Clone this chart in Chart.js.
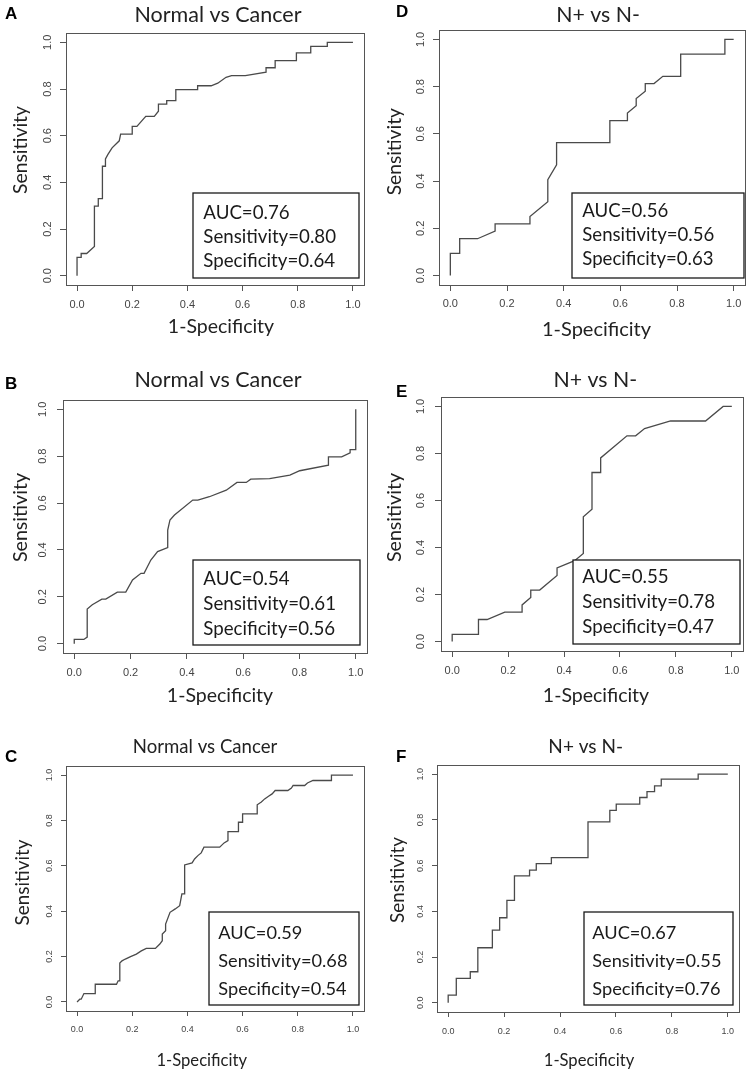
<!DOCTYPE html>
<html>
<head>
<meta charset="utf-8">
<script src="https://cdn.jsdelivr.net/npm/chart.js@4.4.0/dist/chart.umd.min.js"></script>
<style>
html, body { margin: 0; padding: 0; background: #fff; overflow: hidden; }
#page { position: relative; width: 747px; height: 1074px; overflow: hidden; }
#page canvas { position: absolute; }
</style>
</head>
<body>
<div id="page"></div>
<script>
// axis ticks (same on every panel)
const tickValues = [0, 0.2, 0.4, 0.6, 0.8, 1.0];
const xAxisTitle = '1-Specificity';
const yAxisTitle = 'Sensitivity';

// panel texts, order A B C D E F
const panelLetters = ['A', 'B', 'C', 'D', 'E', 'F'];
const panelTitles = ['Normal vs Cancer', 'Normal vs Cancer', 'Normal vs Cancer', 'N+ vs N-', 'N+ vs N-', 'N+ vs N-'];
const aucLabels = ['AUC=0.76', 'AUC=0.54', 'AUC=0.59', 'AUC=0.56', 'AUC=0.55', 'AUC=0.67'];
const sensLabels = ['Sensitivity=0.80', 'Sensitivity=0.61', 'Sensitivity=0.68', 'Sensitivity=0.56', 'Sensitivity=0.78', 'Sensitivity=0.55'];
const specLabels = ['Specificity=0.64', 'Specificity=0.56', 'Specificity=0.54', 'Specificity=0.63', 'Specificity=0.47', 'Specificity=0.76'];

// ROC curves (1-specificity, sensitivity)
const aFpr = [0, 0, 0.015, 0.015, 0.035, 0.063, 0.063, 0.077, 0.077, 0.092, 0.092, 0.103, 0.103, 0.112, 0.127, 0.153, 0.158, 0.2, 0.2, 0.217, 0.249, 0.28, 0.295, 0.295, 0.325, 0.325, 0.358, 0.358, 0.437, 0.437, 0.486, 0.51, 0.54, 0.56, 0.61, 0.685, 0.685, 0.718, 0.718, 0.795, 0.795, 0.847, 0.847, 0.907, 0.907, 1];
const aTpr = [0, 0.078, 0.078, 0.095, 0.095, 0.125, 0.298, 0.298, 0.33, 0.33, 0.469, 0.469, 0.5, 0.52, 0.548, 0.578, 0.607, 0.607, 0.64, 0.64, 0.683, 0.683, 0.705, 0.735, 0.735, 0.75, 0.75, 0.797, 0.797, 0.814, 0.814, 0.825, 0.85, 0.857, 0.857, 0.872, 0.891, 0.891, 0.922, 0.922, 0.955, 0.955, 0.983, 0.983, 1, 1];

const bFpr = [0, 0, 0.034, 0.046, 0.046, 0.064, 0.098, 0.112, 0.153, 0.183, 0.207, 0.237, 0.248, 0.272, 0.296, 0.332, 0.332, 0.34, 0.356, 0.421, 0.439, 0.48, 0.54, 0.578, 0.611, 0.627, 0.694, 0.766, 0.801, 0.903, 0.903, 0.95, 0.98, 0.98, 1, 1];
const bTpr = [0, 0.018, 0.018, 0.028, 0.148, 0.166, 0.19, 0.19, 0.22, 0.22, 0.272, 0.3, 0.3, 0.357, 0.393, 0.41, 0.485, 0.528, 0.549, 0.613, 0.613, 0.627, 0.655, 0.688, 0.688, 0.702, 0.704, 0.719, 0.738, 0.762, 0.797, 0.797, 0.814, 0.828, 0.828, 1];

const cFpr = [0, 0.01, 0.015, 0.025, 0.066, 0.066, 0.143, 0.149, 0.155, 0.155, 0.163, 0.175, 0.194, 0.215, 0.233, 0.251, 0.284, 0.3, 0.309, 0.309, 0.321, 0.321, 0.337, 0.356, 0.372, 0.38, 0.39, 0.39, 0.417, 0.426, 0.438, 0.45, 0.46, 0.517, 0.533, 0.547, 0.547, 0.585, 0.585, 0.6, 0.6, 0.653, 0.653, 0.668, 0.68, 0.694, 0.707, 0.718, 0.764, 0.777, 0.783, 0.825, 0.835, 0.855, 0.922, 0.922, 1];
const cTpr = [0, 0.012, 0.012, 0.037, 0.037, 0.078, 0.078, 0.093, 0.093, 0.171, 0.181, 0.189, 0.2, 0.211, 0.225, 0.236, 0.236, 0.255, 0.27, 0.299, 0.314, 0.343, 0.395, 0.41, 0.424, 0.476, 0.476, 0.604, 0.613, 0.63, 0.645, 0.657, 0.682, 0.682, 0.701, 0.711, 0.751, 0.751, 0.792, 0.792, 0.829, 0.829, 0.869, 0.881, 0.895, 0.907, 0.917, 0.932, 0.932, 0.943, 0.954, 0.954, 0.965, 0.976, 0.976, 1, 1];

const dFpr = [0, 0, 0.033, 0.033, 0.096, 0.158, 0.158, 0.281, 0.281, 0.344, 0.344, 0.375, 0.375, 0.563, 0.563, 0.625, 0.625, 0.656, 0.656, 0.688, 0.688, 0.719, 0.75, 0.813, 0.813, 0.969, 0.969, 1];
const dTpr = [0, 0.094, 0.094, 0.156, 0.156, 0.188, 0.219, 0.219, 0.25, 0.313, 0.406, 0.469, 0.563, 0.563, 0.656, 0.656, 0.688, 0.719, 0.75, 0.781, 0.813, 0.813, 0.844, 0.844, 0.938, 0.938, 1, 1];

const eFpr = [0, 0, 0.094, 0.094, 0.125, 0.188, 0.25, 0.25, 0.281, 0.281, 0.313, 0.375, 0.375, 0.438, 0.469, 0.469, 0.5, 0.5, 0.531, 0.531, 0.625, 0.656, 0.688, 0.781, 0.906, 0.969, 1];
const eTpr = [0, 0.031, 0.031, 0.094, 0.094, 0.125, 0.125, 0.156, 0.188, 0.219, 0.219, 0.281, 0.313, 0.344, 0.375, 0.531, 0.563, 0.719, 0.719, 0.781, 0.875, 0.875, 0.906, 0.938, 0.938, 1, 1];

const fFpr = [0, 0, 0.029, 0.029, 0.079, 0.079, 0.106, 0.106, 0.158, 0.158, 0.184, 0.184, 0.21, 0.21, 0.237, 0.237, 0.291, 0.291, 0.315, 0.315, 0.369, 0.369, 0.5, 0.5, 0.578, 0.578, 0.601, 0.601, 0.685, 0.685, 0.711, 0.711, 0.738, 0.738, 0.762, 0.762, 0.894, 0.894, 1];
const fTpr = [0, 0.034, 0.034, 0.107, 0.107, 0.136, 0.136, 0.241, 0.241, 0.318, 0.318, 0.372, 0.372, 0.448, 0.448, 0.555, 0.555, 0.58, 0.58, 0.609, 0.609, 0.635, 0.635, 0.791, 0.791, 0.842, 0.842, 0.869, 0.869, 0.898, 0.898, 0.924, 0.924, 0.949, 0.949, 0.978, 0.978, 1, 1];

const fprs = [aFpr, bFpr, cFpr, dFpr, eFpr, fFpr];
const tprs = [aTpr, bTpr, cTpr, dTpr, eTpr, fTpr];

// page layout of each panel (pixels)
const layouts = [
    { cell: [0, 0, 374, 340], box: [66, 33, 364, 285], tick: 6, tickFont: 11, xPad: 7, yPad: 4.6,
      letter: [5, 18.5], title: [218, 21.7, 21.5], yTitle: [20.7, 150, 19.4], xTitle: [221, 333.3, 19.5],
      stat: [193, 193, 166, 85], statX: 203.3, statY: [218.5, 242.5, 266.5], statFont: 18.7 },
    { cell: [0, 340, 374, 374], box: [63, 400, 367, 653], tick: 6, tickFont: 11, xPad: 7.2, yPad: 6.6,
      letter: [5, 389.3], title: [218, 386.7, 21.5], yTitle: [20.8, 517.5, 19.6], xTitle: [220, 702, 19.5],
      stat: [193, 560, 167, 85], statX: 203.3, statY: [585, 610, 635], statFont: 18.7 },
    { cell: [0, 700, 374, 374], box: [66, 766, 364, 1011], tick: 5, tickFont: 9, xPad: 8.6, yPad: 5.5,
      letter: [5, 761.7], title: [205, 753.3, 18.6], yTitle: [23.3, 882.5, 18.9], xTitle: [201.7, 1066, 16.6],
      stat: [209, 912, 150, 93], statX: 218.3, statY: [939.3, 966.7, 995], statFont: 18.2 },
    { cell: [374, 0, 380, 340], box: [439, 30, 745, 285], tick: 6, tickFont: 11, xPad: 6, yPad: 4.7,
      letter: [396, 16.7], title: [598, 21.7, 21.3], yTitle: [394.8, 151.7, 19.2], xTitle: [596.5, 336, 20],
      stat: [572, 193, 172, 85], statX: 582.3, statY: [216.7, 241, 265], statFont: 18.6 },
    { cell: [374, 340, 380, 374], box: [441, 397, 743, 651], tick: 6, tickFont: 11, xPad: 7.6, yPad: 6.7,
      letter: [396, 397.3], title: [595.3, 386.7, 21.3], yTitle: [394.8, 517.5, 19.6], xTitle: [596, 702, 19.5],
      stat: [573, 560, 167, 84], statX: 582.3, statY: [583.3, 608.3, 633.3], statFont: 18.7 },
    { cell: [374, 700, 380, 374], box: [437, 765, 739, 1012], tick: 5, tickFont: 9, xPad: 8.8, yPad: 4.75,
      letter: [396, 761.7], title: [585.7, 753.3, 19], yTitle: [397.7, 880, 18.9], xTitle: [589, 1066, 16.6],
      stat: [584, 912, 149, 93], statX: 592.3, statY: [939.3, 966.7, 995], statFont: 18.2 }
];

const AXIS_W = 30;   // fixed width of the y scale
const AXIS_H = 30;   // fixed height of the x scale

// frame, stats box and the free texts of one panel
function makeDecor(i) {
    const L = layouts[i];
    const ox = L.cell[0], oy = L.cell[1];
    return {
        id: 'decor' + i,
        afterDatasetsDraw(chart) {
            const ctx = chart.ctx;
            const a = chart.chartArea;
            ctx.save();
            // R style box round the plot region
            ctx.strokeStyle = '#555';
            ctx.lineWidth = 1;
            ctx.strokeRect(Math.round(a.left) + 0.5, Math.round(a.top) + 0.5,
                Math.round(a.right - a.left), Math.round(a.bottom - a.top));
            // AUC box
            const s = L.stat;
            ctx.fillStyle = '#fff';
            ctx.fillRect(s[0] - ox, s[1] - oy, s[2], s[3]);
            ctx.strokeStyle = '#1a1a1a';
            ctx.lineWidth = 1.3;
            ctx.strokeRect(s[0] - ox, s[1] - oy, s[2], s[3]);
            ctx.fillStyle = '#1a1a1a';
            ctx.font = L.statFont + 'px Lato';
            ctx.textAlign = 'left';
            ctx.textBaseline = 'alphabetic';
            const lines = [aucLabels[i], sensLabels[i], specLabels[i]];
            lines.forEach((t, k) => ctx.fillText(t, L.statX - ox, L.statY[k] - oy));
            ctx.restore();
        },
        afterDraw(chart) {
            const ctx = chart.ctx;
            ctx.save();
            ctx.fillStyle = '#000';
            ctx.textBaseline = 'alphabetic';
            // panel letter
            ctx.font = 'bold 17px "Liberation Sans", Arial';
            ctx.textAlign = 'left';
            ctx.fillText(panelLetters[i], L.letter[0] - ox, L.letter[1] - oy);
            // title
            ctx.fillStyle = '#222';
            ctx.font = L.title[2] + 'px Lato';
            ctx.textAlign = 'center';
            ctx.fillText(panelTitles[i], L.title[0] - ox, L.title[1] - oy);
            // x axis title
            ctx.font = L.xTitle[2] + 'px Lato';
            ctx.fillText(xAxisTitle, L.xTitle[0] - ox, L.xTitle[1] - oy);
            // y axis title, rotated
            ctx.translate(L.yTitle[0] - ox, L.yTitle[1] - oy);
            ctx.rotate(-Math.PI / 2);
            ctx.font = L.yTitle[2] + 'px Lato';
            ctx.textBaseline = 'middle';
            ctx.fillText(yAxisTitle, 0, 0);
            ctx.restore();
        }
    };
}

const page = document.getElementById('page');

for (let i = 0; i < layouts.length; i++) {
    const L = layouts[i];
    const canvas = document.createElement('canvas');
    canvas.width = L.cell[2];
    canvas.height = L.cell[3];
    canvas.style.left = L.cell[0] + 'px';
    canvas.style.top = L.cell[1] + 'px';
    page.appendChild(canvas);

    const points = fprs[i].map((x, k) => ({ x: x, y: tprs[i][k] }));
    const tickFont = { family: '"Liberation Sans", Arial', size: L.tickFont };

    new Chart(canvas, {
        type: 'scatter',
        data: {
            datasets: [{
                data: points,
                showLine: true,
                pointRadius: 0,
                borderColor: '#4a4a4a',
                borderWidth: 1.3,
                tension: 0
            }]
        },
        options: {
            responsive: false,
            animation: false,
            events: [],
            layout: {
                padding: {
                    left: L.box[0] - L.cell[0] - AXIS_W,
                    top: L.box[1] - L.cell[1],
                    right: L.cell[0] + L.cell[2] - L.box[2],
                    bottom: L.cell[1] + L.cell[3] - L.box[3] - AXIS_H
                }
            },
            plugins: {
                legend: { display: false },
                tooltip: { enabled: false }
            },
            scales: {
                x: {
                    type: 'linear',
                    min: -0.04,
                    max: 1.04,
                    afterBuildTicks: (scale) => { scale.ticks = tickValues.map(v => ({ value: v })); },
                    afterFit: (scale) => { scale.height = AXIS_H; },
                    border: { display: false },
                    grid: { drawOnChartArea: false, drawTicks: true, tickLength: L.tick, color: '#555' },
                    ticks: {
                        autoSkip: false,
                        maxRotation: 0,
                        padding: L.xPad,
                        color: '#444',
                        font: tickFont,
                        callback: (v) => v.toFixed(1)
                    }
                },
                y: {
                    type: 'linear',
                    min: -0.04,
                    max: 1.04,
                    afterBuildTicks: (scale) => { scale.ticks = tickValues.map(v => ({ value: v })); },
                    afterFit: (scale) => { scale.width = AXIS_W; },
                    border: { display: false },
                    grid: { drawOnChartArea: false, drawTicks: true, tickLength: L.tick, color: '#555' },
                    ticks: {
                        autoSkip: false,
                        minRotation: 90,
                        maxRotation: 90,
                        crossAlign: 'center',
                        padding: L.yPad,
                        color: '#444',
                        font: tickFont,
                        callback: (v) => v.toFixed(1)
                    }
                }
            }
        },
        plugins: [makeDecor(i)]
    });
}
</script>
</body>
</html>
